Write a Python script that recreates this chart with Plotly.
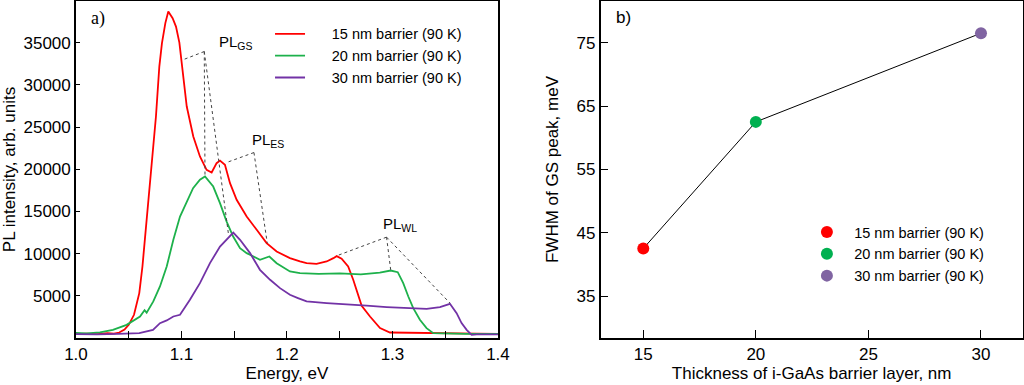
import plotly.graph_objects as go

# ---------------- data: panel a) PL spectra ----------------
red_x = [1.000, 1.010, 1.020, 1.030, 1.036, 1.041, 1.046, 1.050, 1.055, 1.060, 1.063, 1.066, 1.0695,
         1.0727, 1.0758, 1.079, 1.0815, 1.0847, 1.0875, 1.0916, 1.0948, 1.098, 1.1017, 1.105, 1.1112,
         1.1175, 1.1238, 1.1286, 1.1333, 1.1365, 1.1412, 1.146, 1.1523, 1.1618, 1.1713, 1.1807, 1.1902,
         1.2028, 1.2123, 1.2186, 1.228, 1.2376, 1.244, 1.2471, 1.2518, 1.258, 1.2628, 1.266, 1.2708,
         1.2787, 1.2882, 1.2976, 1.310, 1.320, 1.340, 1.360, 1.380, 1.400]
red_y = [450, 520, 470, 560, 520, 650, 1000, 1560, 2750, 5320, 8470, 12820, 17170,
         21900, 26250, 32170, 34950, 37320, 38690, 37900, 36910, 35000, 30600, 27430, 23880,
         21510, 19930, 19610, 20720, 21030, 20520, 18350, 16380, 14400, 12820, 11240, 10250,
         9470, 9070, 8870, 8790, 9070, 9460, 9700, 9400, 8470, 6900, 5710, 3815,
         2550, 1170, 650, 620, 600, 550, 480, 520, 500]

green_x = [1.000, 1.010, 1.0227, 1.035, 1.048, 1.0543, 1.0607, 1.065, 1.067, 1.0733, 1.0796, 1.086,
           1.0923, 1.0986, 1.105, 1.111, 1.1175, 1.1223, 1.1301, 1.1365, 1.1428, 1.149, 1.1555,
           1.1618, 1.1744, 1.1833, 1.1902, 1.2028, 1.2123, 1.230, 1.250, 1.270, 1.288, 1.2983,
           1.305, 1.3102, 1.315, 1.3197, 1.326, 1.3323, 1.3387, 1.350, 1.370, 1.400]
green_y = [600, 550, 660, 970, 1560, 2080, 2550, 3300, 3000, 4330, 6110, 8470,
           11640, 14400, 16180, 17760, 18750, 19140, 17950, 15980, 13800, 12030, 10650,
           10060, 9270, 9660, 8870, 7880, 7690, 7600, 7650, 7550, 7750, 8000,
           7800, 6500, 4920, 3540, 2160, 1170, 580, 520, 480, 500]

purple_x = [1.000, 1.020, 1.040, 1.060, 1.073, 1.0796, 1.086, 1.0923, 1.0986, 1.108, 1.1175, 1.127,
            1.1365, 1.146, 1.1491, 1.1555, 1.165, 1.1744, 1.184, 1.1934, 1.2028, 1.2104, 1.2186,
            1.2376, 1.2566, 1.2755, 1.2945, 1.3134, 1.3324, 1.345, 1.3545, 1.3608, 1.3655, 1.3703,
            1.375, 1.380, 1.390, 1.400]
purple_y = [450, 420, 480, 580, 970, 1760, 2080, 2550, 2750, 4530, 6500, 8870,
            10840, 12030, 12500, 11640, 10060, 8080, 6900, 5910, 5120, 4730, 4330,
            4130, 3940, 3830, 3670, 3550, 3440, 3670, 4050, 2950, 1770, 970,
            380, 420, 400, 420]

series_names = ["15 nm barrier (90 K)", "20 nm barrier (90 K)", "30 nm barrier (90 K)"]

energy_ticks = [1.0, 1.1, 1.2, 1.3, 1.4]
energy_minor_ticks = [1.05, 1.15, 1.25, 1.35]
intensity_ticks = [5000, 10000, 15000, 20000, 25000, 30000, 35000]

# leader lines for peak labels: vertex and end points
gs_vertex = (1.1216, 33950)
gs_ends = [(1.1011, 32960), (1.1223, 19130), (1.1444, 12430)]
es_vertex = (1.1687, 21980)
es_ends = [(1.1428, 20800), (1.1813, 11240)]
wl_vertex = (1.2944, 11950)
wl_ends = [(1.2471, 9740), (1.2983, 8080), (1.3545, 4140)]
peak_labels = ["PL<sub>GS</sub>", "PL<sub>ES</sub>", "PL<sub>WL</sub>"]
peak_label_pos = [(1.1335, 35000), (1.1650, 23400), (1.2890, 13500)]

# ---------------- data: panel b) FWHM ----------------
thickness = [15, 20, 30]
fwhm = [42.5, 62.5, 76.5]
thickness_ticks = [15, 20, 25, 30]
fwhm_ticks = [35, 45, 55, 65, 75]

line_colors = ["#ff0000", "#1db14b", "#7232a6"]
marker_colors = ["#ff0000", "#00b050", "#8064a2"]

FONT = "Arial, Liberation Sans, sans-serif"

fig = go.Figure()

for xs, ys, nm, col, k in zip([red_x, green_x, purple_x], [red_y, green_y, purple_y],
                              series_names, line_colors, range(3)):
    fig.add_trace(go.Scatter(x=xs, y=ys, mode="lines", name="\u2003\u2002" + nm,
                             line=dict(color=col, width=1.8), legend="legend",
                             legendgroup="g%d" % k, xaxis="x", yaxis="y"))

for vert, ends in [(gs_vertex, gs_ends), (es_vertex, es_ends), (wl_vertex, wl_ends)]:
    lx, ly = [], []
    for e in ends:
        lx += [vert[0], e[0], None]
        ly += [vert[1], e[1], None]
    fig.add_trace(go.Scatter(x=lx, y=ly, mode="lines", showlegend=False,
                             line=dict(color="#444444", width=1, dash="dot"),
                             xaxis="x", yaxis="y", hoverinfo="skip"))

for txt, (px, py) in zip(peak_labels, peak_label_pos):
    fig.add_annotation(x=px, y=py, xref="x", yref="y", text=txt, showarrow=False,
                       xanchor="left", yanchor="middle",
                       font=dict(family=FONT, size=15, color="black"))

# panel b
fig.add_trace(go.Scatter(x=thickness, y=fwhm, mode="lines", showlegend=False,
                         line=dict(color="black", width=1), xaxis="x2", yaxis="y2"))
for k in range(3):
    fig.add_trace(go.Scatter(x=[thickness[k]], y=[fwhm[k]], mode="markers",
                             name="\u2002" + series_names[k],
                             marker=dict(color=marker_colors[k], size=12),
                             legend="legend2", legendgroup="h%d" % k,
                             xaxis="x2", yaxis="y2"))

fig.add_annotation(x=0.087, y=0.985, xref="paper", yref="paper", text="a)", showarrow=False,
                   xanchor="left", yanchor="top",
                   font=dict(family="Liberation Serif, Times New Roman, serif", size=18, color="black"))
fig.add_annotation(x=0.600, y=0.985, xref="paper", yref="paper", text="b)", showarrow=False,
                   xanchor="left", yanchor="top",
                   font=dict(family=FONT, size=17, color="black"))

axis_common = dict(showline=True, linecolor="black", linewidth=1.6, mirror=True,
                   showgrid=False, zeroline=False, ticks="inside", tickcolor="black",
                   automargin=False,
                   tickfont=dict(family=FONT, size=17, color="black"),
                   title_font=dict(family=FONT, size=17, color="black"))

fig.update_layout(
    width=1024, height=385,
    margin=dict(l=0, r=0, t=1, b=47, autoexpand=False),
    paper_bgcolor="white", plot_bgcolor="white",
    xaxis=dict(domain=[0.0742, 0.4863], range=[1.0, 1.4], anchor="y",
               tickvals=energy_ticks, ticktext=["%.1f" % v for v in energy_ticks],
               ticklen=7, minor=dict(tickvals=energy_minor_ticks, ticks="inside", ticklen=7,
                                    tickcolor="black"),
               title=dict(text="Energy, eV", standoff=4), **axis_common),
    yaxis=dict(domain=[0, 1], range=[0, 39940], anchor="x",
               tickvals=intensity_ticks, ticktext=[str(v) for v in intensity_ticks],
               ticklen=4, title=dict(text="PL intensity, arb. units", standoff=6), **axis_common),
    xaxis2=dict(domain=[0.5866, 0.9987], range=[13.108, 31.852], anchor="y2",
                tickvals=thickness_ticks, ticktext=[str(v) for v in thickness_ticks], ticklen=8,
                title=dict(text="Thickness of i-GaAs barrier layer, nm", standoff=4), **axis_common),
    yaxis2=dict(domain=[0, 1], range=[28.37, 81.59], anchor="x2",
                tickvals=fwhm_ticks, ticktext=[str(v) for v in fwhm_ticks], ticklen=8,
                title=dict(text="FWHM of GS peak, meV", standoff=14), **axis_common),
    legend=dict(x=0.2637, y=0.95, xanchor="left", yanchor="top", bgcolor="rgba(0,0,0,0)",
                font=dict(family=FONT, size=14.5, color="black"), tracegroupgap=0),
    legend2=dict(x=0.788, y=0.362, xanchor="left", yanchor="top", bgcolor="rgba(0,0,0,0)",
                 font=dict(family=FONT, size=14.5, color="black"), tracegroupgap=0),
    showlegend=True,
)

fig.write_html("out.html", config={"displayModeBar": False},
               post_script="document.body.style.margin='0';document.body.style.padding='0';")
